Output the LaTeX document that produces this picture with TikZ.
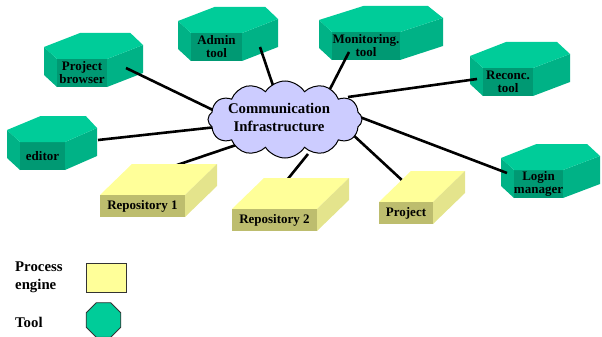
\documentclass[tikz,border=0pt]{standalone}
\usepackage{fontspec}
\setmainfont{Liberation Serif}
\usetikzlibrary{shapes.symbols,shapes.geometric}
\definecolor{hextop}{RGB}{0,204,153}
\definecolor{hexside}{RGB}{0,178,134}
\definecolor{hexfront}{RGB}{0,153,115}
\definecolor{ytop}{RGB}{255,255,153}
\definecolor{yside}{RGB}{228,228,140}
\definecolor{yfront}{RGB}{189,189,110}
\definecolor{cloudc}{RGB}{204,204,255}
\tikzset{
  hexlabel/.style={inner sep=0pt, align=center, font=\fontsize{13}{13}\selectfont\bfseries},
  boxlabel/.style={inner sep=0pt, align=center, font=\fontsize{13}{13}\selectfont\bfseries},
  legendlabel/.style={inner sep=0pt, align=left, anchor=west, font=\fontsize{14.8}{18}\selectfont\bfseries},
  conn/.style={line width=2.6pt, black},
}
% name, x, y, W, D, text
\newcommand\hexprism[6]{%
  \fill[hexside] (#2-13,#3-12) -- (#2,#3) -- (#2,#3+28) -- (#2-13,#3+16) -- cycle;
  \fill[hexfront] (#2,#3) rectangle (#2+#4,#3+28);
  \fill[hexside] (#2+#4,#3) -- (#2+#4+#5,#3-14) -- (#2+#4+#5,#3+14) -- (#2+#4,#3+28) -- cycle;
  \fill[hextop] (#2-13,#3-12) -- (#2+0.46*#4,#3-26) -- (#2+#4+0.65*#5,#3-26) -- (#2+#4+#5,#3-14) -- (#2+#4,#3) -- (#2,#3) -- cycle;
  \node[hexlabel] (#1) at (#2+#4/2,#3+14) {#6};
}
% name, x, y, W, text
\newcommand\ybox[5]{%
  \fill[ytop] (#2,#3) -- (#2+32,#3-31) -- (#2+#4+32,#3-31) -- (#2+#4,#3) -- cycle;
  \fill[yside] (#2+#4,#3) -- (#2+#4+32,#3-31) -- (#2+#4+32,#3-9) -- (#2+#4,#3+22) -- cycle;
  \fill[yfront] (#2,#3) rectangle (#2+#4,#3+22);
  \node[boxlabel] (#1) at (#2+#4/2,#3+11) {#5};
}
\begin{document}
\begin{tikzpicture}[x=1pt,y=-1pt]
\useasboundingbox (0,0) rectangle (602,337);
% tools
\hexprism{pb}{57}{59}{50}{36}{Project\\browser}
\hexprism{admin}{191}{33}{51}{36}{Admin\\tool}
\hexprism{mon}{332}{32}{68}{43}{Monitoring.\\tool}
\hexprism{rec}{483}{68}{50}{37}{Reconc.\\tool}
\hexprism{ed}{20}{142}{45}{32}{editor}
\hexprism{login}{514}{170}{49}{37}{Login\\manager}
% connector ends
\coordinate (pbA) at (126,68);   \coordinate (pbB) at (215,111);
\coordinate (adA) at (260,47);   \coordinate (adB) at (274.5,90);
\coordinate (edA) at (98,140);   \coordinate (edB) at (213,127.4);
\coordinate (r1A) at (177,165);  \coordinate (r1B) at (237.6,144.5);
\coordinate (moA) at (349,52);   \coordinate (moB) at (329.5,90);
\coordinate (reA) at (477,79);   \coordinate (reB) at (348,97);
\coordinate (loA) at (507,173);  \coordinate (loB) at (354.5,115);
\coordinate (prA) at (404,182);  \coordinate (prB) at (344,126.5);
\coordinate (r2A) at (287,180);  \coordinate (r2B) at (308,154);
\draw[conn] (pbA) -- (pbB);
\draw[conn] (adA) -- (adB);
\draw[conn] (edA) -- (edB);
\draw[conn] (r1A) -- (r1B);
\draw[conn] (moA) -- (moB);
\draw[conn] (reA) -- (reB);
\draw[conn] (loA) -- (loB);
\draw[conn] (prA) -- (prB);
\draw[conn] (r2A) -- (r2B);
% process engines
\ybox{rep1}{100}{195}{85}{Repository 1}
\ybox{rep2}{232}{209}{85}{Repository 2}
\ybox{proj}{379}{202}{54}{Project}
% cloud
\node[cloud, cloud puffs=12, cloud puff arc=115, aspect=2, draw=black, line width=1pt,
      fill=cloudc, minimum width=154pt, minimum height=77pt, inner sep=0pt] (cloud) at (285,119.5) {};
\node[inner sep=0pt, align=center, font=\fontsize{14.8}{18}\selectfont\bfseries] (cloudtext) at (279,117.5) {Communication\\Infrastructure};
% legend
\node[legendlabel] (lpe) at (15,277) {Process\\engine};
\node[draw=black!80, line width=0.8pt, fill=ytop, minimum width=40pt, minimum height=29pt, inner sep=0pt] (pesym) at (106,277.5) {};
\node[legendlabel] (ltool) at (15,322) {Tool};
\node[regular polygon, regular polygon sides=8, draw=black!80, line width=0.8pt, fill=hextop, minimum size=37.5pt, inner sep=0pt] (toolsym) at (103.5,320) {};
\end{tikzpicture}
\end{document}
